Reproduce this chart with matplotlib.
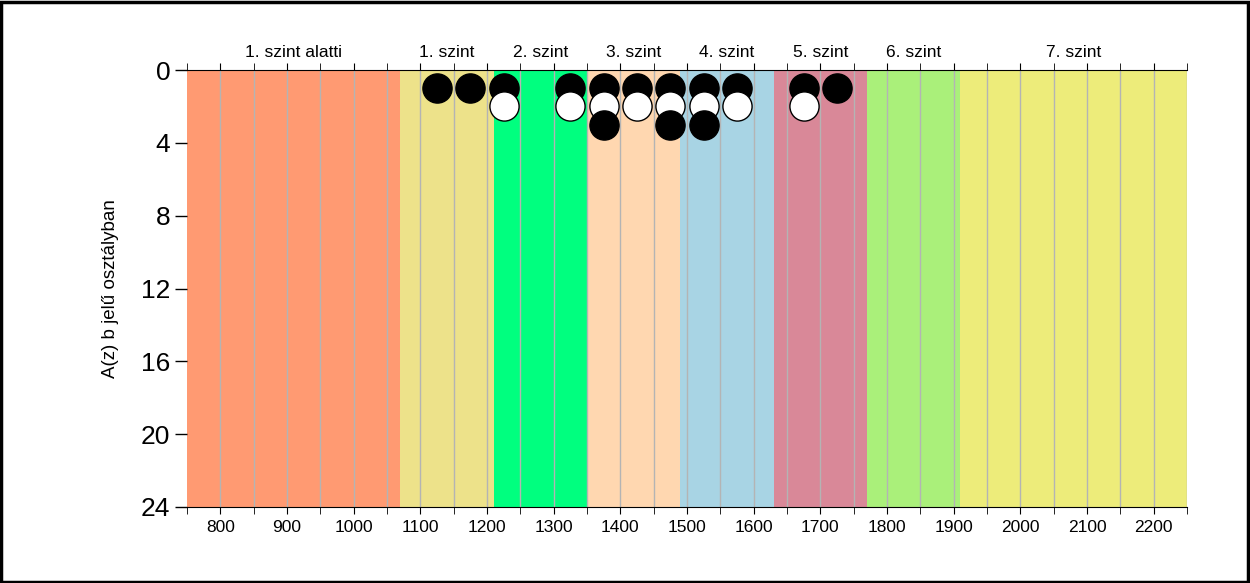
import matplotlib
matplotlib.use("Agg")
import matplotlib.pyplot as plt
from matplotlib.patches import Rectangle

plt.rcParams['font.family'] = ['Liberation Sans', 'DejaVu Sans']

# level bands
band_names = ["1. szint alatti", "1. szint", "2. szint", "3. szint",
              "4. szint", "5. szint", "6. szint", "7. szint"]
band_edges = [750, 1070, 1210, 1350, 1490, 1630, 1770, 1910, 2250]
band_colors = ["#FF9A72", "#EDE28A", "#00FF7F", "#FFD7B0",
               "#A8D4E4", "#D98898", "#AAF07A", "#EDEC7A"]

# dots: x position (bin centre), row, fill
dot_x = [1125, 1175, 1225, 1325, 1375, 1425, 1475, 1525, 1575, 1675, 1725,
         1225, 1325, 1375, 1425, 1475, 1525, 1575, 1675,
         1375, 1475, 1525]
dot_y = [1] * 11 + [2] * 8 + [3] * 3
dot_fill = ["black"] * 11 + ["white"] * 8 + ["black"] * 3

fig = plt.figure(figsize=(12.5, 5.83), dpi=100)
ax = fig.add_axes([187 / 1250, 1 - 507 / 583, 1000 / 1250, 437 / 583])

for i, name in enumerate(band_names):
    ax.axvspan(band_edges[i], band_edges[i + 1], color=band_colors[i], lw=0, zorder=0)

for x in range(800, 2251, 50):
    ax.axvline(x, color="#b4b4b4", lw=1, zorder=1)

for x, y, c in zip(dot_x, dot_y, dot_fill):
    ax.plot(x, y, "o", ms=21, mfc=c, mec="black", mew=1, zorder=3)

ax.set_xlim(750, 2250)
ax.set_ylim(24, 0)
ax.set_yticks(range(0, 25, 4))
ax.tick_params(axis="y", labelsize=19, length=9, width=1, direction="out", pad=3)
ax.set_xticks(range(800, 2201, 100))
ax.set_xticks(range(750, 2251, 50), minor=True)
ax.tick_params(axis="x", which="both", labelsize=12.5, length=5, direction="out",
               top=True, bottom=True, pad=4)
ax.set_ylabel("A(z) b jelű osztályban", fontsize=13.5, labelpad=16)

for s in ["left", "right"]:
    ax.spines[s].set_visible(False)

ax2 = ax.secondary_xaxis("top")
mids = [(band_edges[i] + band_edges[i + 1]) / 2 for i in range(len(band_names))]
ax2.set_xticks(mids)
ax2.set_xticklabels(band_names)
ax2.tick_params(length=0, labelsize=12.5, pad=7)
ax2.spines["top"].set_visible(False)

fig.patches.append(Rectangle((0.001, 0.002), 0.997, 0.995, transform=fig.transFigure,
                             fill=False, ec="black", lw=2.5))

fig.savefig("out.png", dpi=100)
